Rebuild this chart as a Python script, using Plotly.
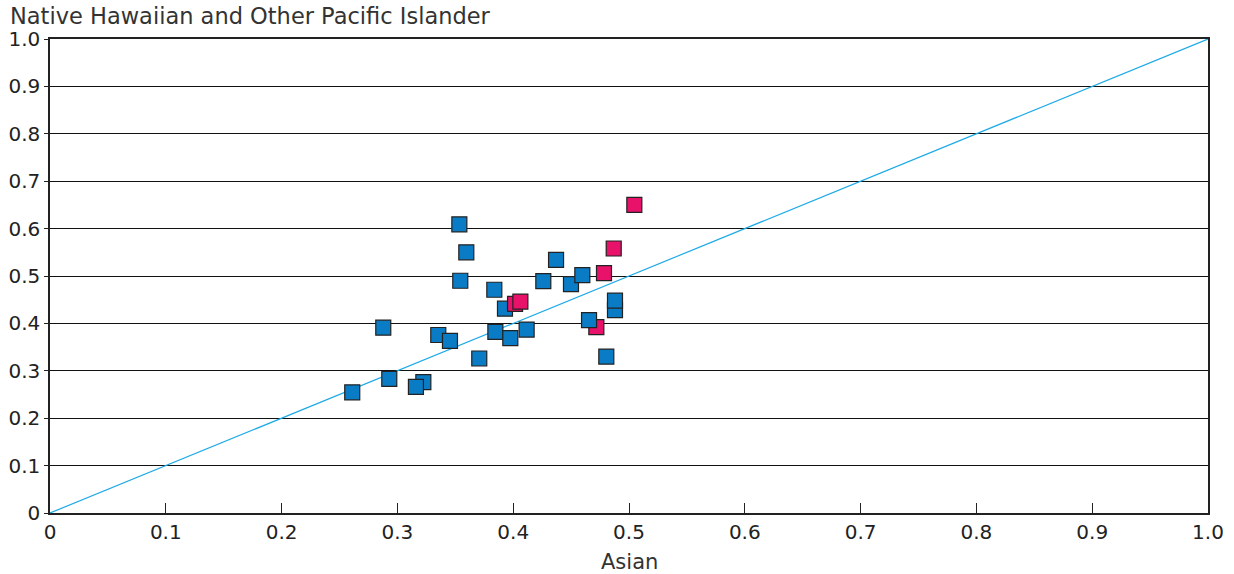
import plotly.graph_objects as go

# Blue series (Asian vs Native Hawaiian and Other Pacific Islander)
blue_x = [0.3535, 0.3595, 0.3543, 0.3837, 0.3929, 0.437, 0.426, 0.4499, 0.4597, 0.4879,
          0.4879, 0.4655, 0.4804, 0.4116, 0.3846, 0.3975, 0.3707, 0.2878, 0.3353, 0.3454,
          0.293, 0.3224, 0.316, 0.261]
blue_y = [0.609, 0.550, 0.490, 0.471, 0.431, 0.534, 0.489, 0.483, 0.502, 0.428,
          0.448, 0.407, 0.330, 0.387, 0.382, 0.369, 0.326, 0.391, 0.3755, 0.363,
          0.283, 0.276, 0.266, 0.2546]
# Pink series
pink_x = [0.4718, 0.5046, 0.4868, 0.4784, 0.4016, 0.4062]
pink_y = [0.392, 0.650, 0.558, 0.506, 0.441, 0.446]

ticks = [0, 0.1, 0.2, 0.3, 0.4, 0.5, 0.6, 0.7, 0.8, 0.9, 1.0]
tick_text = ["0", "0.1", "0.2", "0.3", "0.4", "0.5", "0.6", "0.7", "0.8", "0.9", "1.0"]

BLUE = "#0A7CC6"
PINK = "#E8126A"

# draw order: first pink under blue, then blues, then remaining pinks
xs = pink_x[:1] + blue_x + pink_x[1:]
ys = pink_y[:1] + blue_y + pink_y[1:]
cols = [PINK] + [BLUE] * len(blue_x) + [PINK] * (len(pink_x) - 1)

font = "DejaVu Sans"
TXT = "#222222"

fig = go.Figure()
fig.add_trace(go.Scatter(x=[0, 1], y=[0, 1], mode="lines",
                         line=dict(color="#1EAAE7", width=1.2), hoverinfo="skip"))
fig.add_trace(go.Scatter(x=xs, y=ys, mode="markers",
                         marker=dict(symbol="square", size=15, color=cols,
                                     line=dict(color="#222222", width=1.2))))

fig.update_layout(
    width=1234, height=574,
    paper_bgcolor="white", plot_bgcolor="white",
    margin=dict(l=50, r=26, t=39, b=61),
    showlegend=False,
    font=dict(family=font, size=20, color=TXT),
    xaxis=dict(range=[0, 1], tickvals=ticks, ticktext=tick_text, showgrid=False,
               zeroline=False, showline=True, linecolor="#222222", linewidth=1.5,
               mirror=True, ticks="inside", ticklen=10, tickcolor="#222222",
               automargin=False,
               tickfont=dict(family=font, size=20, color=TXT)),
    yaxis=dict(range=[0, 1], tickvals=ticks, ticktext=tick_text, showgrid=True,
               gridcolor="#111111", gridwidth=1, zeroline=False, showline=True,
               linecolor="#222222", linewidth=1.5, mirror=True, ticks="outside",
               ticklen=4, tickcolor="#222222", automargin=False,
               tickfont=dict(family=font, size=20, color=TXT)),
    annotations=[
        dict(text="Native Hawaiian and Other Pacific Islander", xref="paper",
             yref="paper", x=-0.0363, y=1.0, xanchor="left", yanchor="bottom",
             yshift=8, showarrow=False,
             font=dict(family=font, size=22.5, color="#333333")),
        dict(text="Asian", xref="paper", yref="paper", x=0.5, y=0.0,
             xanchor="center", yanchor="top", yshift=-35, showarrow=False,
             font=dict(family=font, size=21, color="#333333")),
    ],
)

fig.write_html("out.html", config={"displayModeBar": False},
               post_script="document.body.style.margin='0';")
